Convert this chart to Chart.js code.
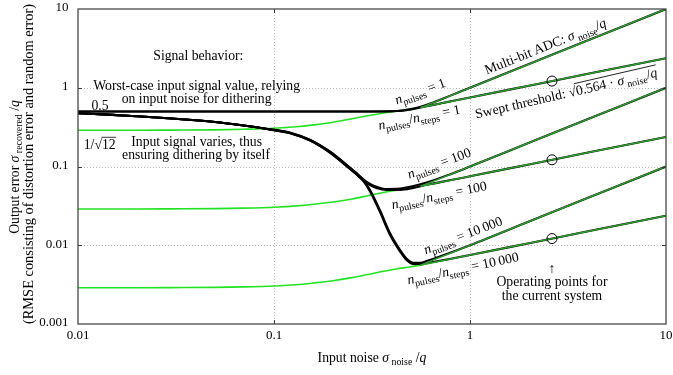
<!DOCTYPE html>
<html>
<head>
<meta charset="utf-8">
<script src="https://cdn.jsdelivr.net/npm/chart.js@4.4.1/dist/chart.umd.min.js"></script>
<style>
  html, body { margin: 0; padding: 0; background: #fff; }
  canvas { display: block; }
</style>
</head>
<body>
<canvas id="c" width="673" height="375"></canvas>
<script>
// ---- axis ticks ----
const xTickValues = [0.01, 0.1, 1, 10];
const xTickLabels = ['0.01', '0.1', '1', '10'];
const yTickValues = [0.001, 0.01, 0.1, 1, 10];
const yTickLabels = ['0.001', '0.01', '0.1', '1', '10'];

// ---- worst-case input, n_pulses = 1 (multi-bit ADC and swept threshold) ----
const n1X       = [0.01, 0.1, 0.3, 0.4, 0.45, 0.5, 0.56, 0.65, 0.8, 1, 2, 4, 10];
const n1AdcY    = [0.5, 0.5, 0.5, 0.503, 0.514, 0.537, 0.575, 0.65, 0.8, 1, 2, 4, 10];
const n1SweptY  = [0.5, 0.5, 0.5, 0.502, 0.51, 0.53, 0.562, 0.605, 0.672, 0.751, 1.062, 1.502, 2.375];

// ---- worst-case input, n_pulses = 100 ----
const n100X      = [0.01, 0.015, 0.02, 0.03, 0.05, 0.07, 0.095, 0.121, 0.153, 0.193, 0.235, 0.264, 0.297, 0.333, 0.376, 0.44, 0.514, 0.6, 0.8, 1, 2, 4, 10];
const n100AdcY   = [0.474, 0.453, 0.434, 0.407, 0.368, 0.332, 0.297, 0.268, 0.217, 0.154, 0.1045, 0.0818, 0.064, 0.0555, 0.0518, 0.0524, 0.0565, 0.0625, 0.0805, 0.1, 0.2, 0.4, 1];
const n100SweptY = [0.474, 0.453, 0.434, 0.407, 0.367, 0.331, 0.295, 0.265, 0.213, 0.15, 0.101, 0.079, 0.0615, 0.0535, 0.0505, 0.0505, 0.0535, 0.0585, 0.0672, 0.0751, 0.1062, 0.1502, 0.2375];

// ---- worst-case input, n_pulses = 10 000 ----
const n10kX      = [0.01, 0.015, 0.02, 0.03, 0.05, 0.07, 0.095, 0.121, 0.153, 0.193, 0.235, 0.264, 0.285, 0.309, 0.347, 0.391, 0.44, 0.474, 0.514, 0.56, 0.6, 0.8, 1, 2, 4, 10];
const n10kAdcY   = [0.474, 0.453, 0.434, 0.407, 0.368, 0.332, 0.297, 0.268, 0.217, 0.154, 0.1045, 0.0818, 0.068, 0.0504, 0.028, 0.0142, 0.0087, 0.0068, 0.006, 0.006, 0.0063, 0.0081, 0.01, 0.02, 0.04, 0.1];
const n10kSweptY = [0.474, 0.453, 0.434, 0.407, 0.367, 0.331, 0.295, 0.265, 0.213, 0.15, 0.101, 0.079, 0.0655, 0.048, 0.0265, 0.0135, 0.0083, 0.0065, 0.0058, 0.0058, 0.00595, 0.00675, 0.00751, 0.01062, 0.01502, 0.02375];

// ---- varying input signal (self-dithering) ----
const varX     = [0.01, 0.02, 0.03, 0.05, 0.07, 0.1, 0.13, 0.16, 0.2, 0.25, 0.3, 0.35, 0.42, 0.5, 0.6, 0.8];
const var1Y    = [0.289, 0.289, 0.29, 0.292, 0.297, 0.306, 0.32, 0.338, 0.365, 0.405, 0.44, 0.472, 0.505, 0.535, 0.583, 0.672];
const var100Y  = [0.0289, 0.0289, 0.029, 0.0292, 0.0296, 0.0304, 0.0316, 0.0332, 0.0355, 0.0387, 0.0425, 0.046, 0.0499, 0.0533, 0.0582, 0.0672];
const var10kY  = [0.00289, 0.00289, 0.0029, 0.00292, 0.00296, 0.00304, 0.00315, 0.00332, 0.00355, 0.00388, 0.00425, 0.0046, 0.005, 0.00533, 0.00582, 0.00672];

// ---- asymptotes: multi-bit ADC and swept threshold ----
const adcLineX   = [0.56, 10];
const adc1Y      = [0.56, 10];
const adc100Y    = [0.056, 1];
const adc10kY    = [0.0056, 0.1];
const sweptLineX = [0.56, 10];
const swept1Y    = [0.562, 2.375];
const swept100Y  = [0.0562, 0.2375];
const swept10kY  = [0.00562, 0.02375];

// ---- operating points of the current system ----
const opX = [2.62, 2.62, 2.62];
const opY = [1.216, 0.1216, 0.01216];

const FONT = "'Liberation Serif', 'DejaVu Serif', serif";
const BLACK = '#000000';
const LIME = '#22e322';
const GREEN = '#2f9e2f';

function pts(xs, ys) { return xs.map((x, i) => ({ x: x, y: ys[i] })); }

function curve(xs, ys, color, width, order) {
  return {
    data: pts(xs, ys), showLine: true, borderColor: color, borderWidth: width,
    pointRadius: 0, cubicInterpolationMode: 'monotone', order: order, fill: false
  };
}

const datasets = [
  curve(varX, var1Y, LIME, 1.6, 4),
  curve(varX, var100Y, LIME, 1.6, 4),
  curve(varX, var10kY, LIME, 1.6, 4),
  curve(n1X, n1AdcY, BLACK, 2.1, 3),
  curve(n1X, n1SweptY, BLACK, 2.1, 3),
  curve(n100X, n100AdcY, BLACK, 2.1, 3),
  curve(n100X, n100SweptY, BLACK, 2.1, 3),
  curve(n10kX, n10kAdcY, BLACK, 2.1, 3),
  curve(n10kX, n10kSweptY, BLACK, 2.1, 3),
  curve(adcLineX, adc1Y, GREEN, 1.5, 2),
  curve(adcLineX, adc100Y, GREEN, 1.5, 2),
  curve(adcLineX, adc10kY, GREEN, 1.5, 2),
  curve(sweptLineX, swept1Y, GREEN, 1.5, 2),
  curve(sweptLineX, swept100Y, GREEN, 1.5, 2),
  curve(sweptLineX, swept10kY, GREEN, 1.5, 2),
  {
    data: pts(opX, opY), showLine: false, pointRadius: 5, pointStyle: 'circle',
    pointBorderColor: BLACK, pointBackgroundColor: 'rgba(0,0,0,0)', pointBorderWidth: 1, order: 1
  }
];

// ---- rich text helpers: r = roman, i = italic, s = subscript; trailing 'b' = under the radical bar ----
function fontFor(kind, size) {
  if (kind[0] === 'i') return 'italic ' + size + 'px ' + FONT;
  if (kind[0] === 's') return (size * 0.72).toFixed(1) + 'px ' + FONT;
  return size + 'px ' + FONT;
}

function drawRich(ctx, segs, x, y, angle, size) {
  size = size || 13.7;
  let w = 0;
  const parts = segs.map(([t, k]) => {
    ctx.font = fontFor(k, size);
    const m = ctx.measureText(t).width;
    const p = { t, k, x: w, w: m };
    w += m;
    return p;
  });
  ctx.save();
  ctx.translate(x, y);
  ctx.rotate((angle || 0) * Math.PI / 180);
  const x0 = -w / 2;
  const base = size * 0.34;
  ctx.fillStyle = '#000';
  ctx.textAlign = 'left';
  ctx.textBaseline = 'alphabetic';
  let b0 = null, b1 = null;
  parts.forEach(p => {
    ctx.font = fontFor(p.k, size);
    ctx.fillText(p.t, x0 + p.x, base + (p.k[0] === 's' ? size * 0.27 : 0));
    if (p.k.endsWith('b')) {
      if (b0 === null) b0 = x0 + p.x;
      b1 = x0 + p.x + p.w;
    }
  });
  if (b0 !== null) {
    ctx.strokeStyle = '#000';
    ctx.lineWidth = 0.8;
    ctx.beginPath();
    ctx.moveTo(b0 - 0.5, base - size * 0.87);
    ctx.lineTo(b1 + 0.5, base - size * 0.87);
    ctx.stroke();
  }
  ctx.restore();
}

const nP = [['n', 'i'], ['pulses', 's']];
const nRatio = [['n', 'i'], ['pulses', 's'], ['/', 'r'], ['n', 'i'], ['steps', 's']];

// annotations anchored in data coordinates (centre of the text)
const notes = [
  { at: [0.0411, 2.61], segs: [['Signal behavior:', 'r']] },
  { at: [0.0403, 1.084], segs: [['Worst-case input signal value, relying', 'r']] },
  { at: [0.0403, 0.73], segs: [['on input noise for dithering', 'r']] },
  { at: [0.01295, 0.60], segs: [['0.5', 'r']] },
  { at: [0.0129, 0.19], segs: [['1/√', 'r'], ['12', 'rb']] },
  { at: [0.0403, 0.2065], segs: [['Input signal varies, thus', 'r']] },
  { at: [0.0400, 0.141], segs: [['ensuring dithering by itself', 'r']] },
  { at: [2.42, 3.39], rot: -21.9, segs: [['Multi-bit ADC: ', 'r'], ['σ', 'i'], [' noise', 's'], ['/', 'r'], ['q', 'i']] },
  { at: [0.556, 0.91], rot: -20, segs: nP.concat([[' = 1', 'r']]) },
  { at: [0.55, 0.4256], rot: -11.4, segs: nRatio.concat([[' = 1', 'r']]) },
  { at: [3.09, 0.858], rot: -13, segs: [['Swept threshold: ', 'r'], ['√', 'r'], ['0.564 · ', 'rb'], ['σ', 'ib'], [' noise', 'sb'], ['/', 'rb'], ['q', 'ib']] },
  { at: [0.695, 0.1108], rot: -20, segs: nP.concat([[' = 100', 'r']]) },
  { at: [0.695, 0.0435], rot: -11.4, segs: nRatio.concat([[' = 100', 'r']]) },
  { at: [0.92, 0.01349], rot: -21, segs: nP.concat([[' = 10\u2009000', 'r']]) },
  { at: [0.92, 0.00514], rot: -11.8, segs: nRatio.concat([[' = 10\u2009000', 'r']]) },
  { at: [2.62, 0.00514], segs: [['↑', 'r']] },
  { at: [2.62, 0.00344], segs: [['Operating points for', 'r']] },
  { at: [2.62, 0.00233], segs: [['the current system', 'r']] }
];

const frame = {
  id: 'frame',
  beforeDatasetsDraw(chart) {
    const { ctx, chartArea: a, scales: { x, y } } = chart;
    ctx.save();
    ctx.strokeStyle = '#bdbdbd';
    ctx.lineWidth = 1;
    ctx.setLineDash([1, 2]);
    xTickValues.slice(1, -1).forEach(v => {
      const px = Math.round(x.getPixelForValue(v)) + 0.5;
      ctx.beginPath(); ctx.moveTo(px, a.top); ctx.lineTo(px, a.bottom); ctx.stroke();
    });
    yTickValues.slice(1, -1).forEach(v => {
      const py = Math.round(y.getPixelForValue(v)) + 0.5;
      ctx.beginPath(); ctx.moveTo(a.left, py); ctx.lineTo(a.right, py); ctx.stroke();
    });
    ctx.restore();
  },
  afterDatasetsDraw(chart) {
    const { ctx, chartArea: a, scales: { x, y } } = chart;
    ctx.save();
    ctx.strokeStyle = '#3a3a3a';
    ctx.lineWidth = 1.2;
    ctx.strokeRect(a.left, a.top, a.right - a.left, a.bottom - a.top);
    ctx.lineWidth = 1;
    const t = 4;
    xTickValues.slice(1, -1).forEach(v => {
      const px = Math.round(x.getPixelForValue(v)) + 0.5;
      ctx.beginPath();
      ctx.moveTo(px, a.bottom); ctx.lineTo(px, a.bottom - t);
      ctx.moveTo(px, a.top); ctx.lineTo(px, a.top + t);
      ctx.stroke();
    });
    yTickValues.slice(1, -1).forEach(v => {
      const py = Math.round(y.getPixelForValue(v)) + 0.5;
      ctx.beginPath();
      ctx.moveTo(a.left, py); ctx.lineTo(a.left + t, py);
      ctx.moveTo(a.right, py); ctx.lineTo(a.right - t, py);
      ctx.stroke();
    });

    // tick labels placed through the scales
    ctx.fillStyle = '#000';
    ctx.font = '13px ' + FONT;
    ctx.textBaseline = 'middle';
    ctx.textAlign = 'right';
    yTickValues.forEach((v, i) => ctx.fillText(yTickLabels[i], a.left - 9.5, y.getPixelForValue(v) - 1));
    ctx.textAlign = 'center';
    xTickValues.forEach((v, i) => ctx.fillText(xTickLabels[i], x.getPixelForValue(v), a.bottom + 12));
    ctx.restore();

    notes.forEach(n => {
      drawRich(ctx, n.segs, x.getPixelForValue(n.at[0]), y.getPixelForValue(n.at[1]), n.rot || 0);
    });

    // axis titles
    const cx = (a.left + a.right) / 2;
    drawRich(ctx, [['Input noise ', 'r'], ['σ', 'i'], [' noise', 's'], [' /', 'r'], ['q', 'i']], cx, 357, 0);
    drawRich(ctx, [['Output error ', 'r'], ['σ', 'i'], [' recovered', 's'], [' /', 'r'], ['q', 'i']], 14, 167, -90);
    drawRich(ctx, [['(RMSE consisting of distortion error and random error)', 'r']], 28.5, 164, -90, 14.4);
  }
};

new Chart(document.getElementById('c'), {
  type: 'scatter',
  data: { datasets: datasets },
  options: {
    responsive: false,
    animation: false,
    devicePixelRatio: 1,
    layout: { padding: { top: 9, right: 7, left: 0, bottom: 0 } },
    plugins: { legend: { display: false }, tooltip: { enabled: false } },
    scales: {
      x: {
        type: 'logarithmic', min: 0.01, max: 10,
        grid: { display: false }, border: { display: false },
        afterBuildTicks: s => { s.ticks = xTickValues.map(v => ({ value: v })); },
        afterFit: s => { s.height = 51; },
        ticks: { display: false }
      },
      y: {
        type: 'logarithmic', min: 0.001, max: 10,
        grid: { display: false }, border: { display: false },
        afterBuildTicks: s => { s.ticks = yTickValues.map(v => ({ value: v })); },
        afterFit: s => { s.width = 78; },
        ticks: { display: false }
      }
    }
  },
  plugins: [frame]
});
</script>
</body>
</html>
